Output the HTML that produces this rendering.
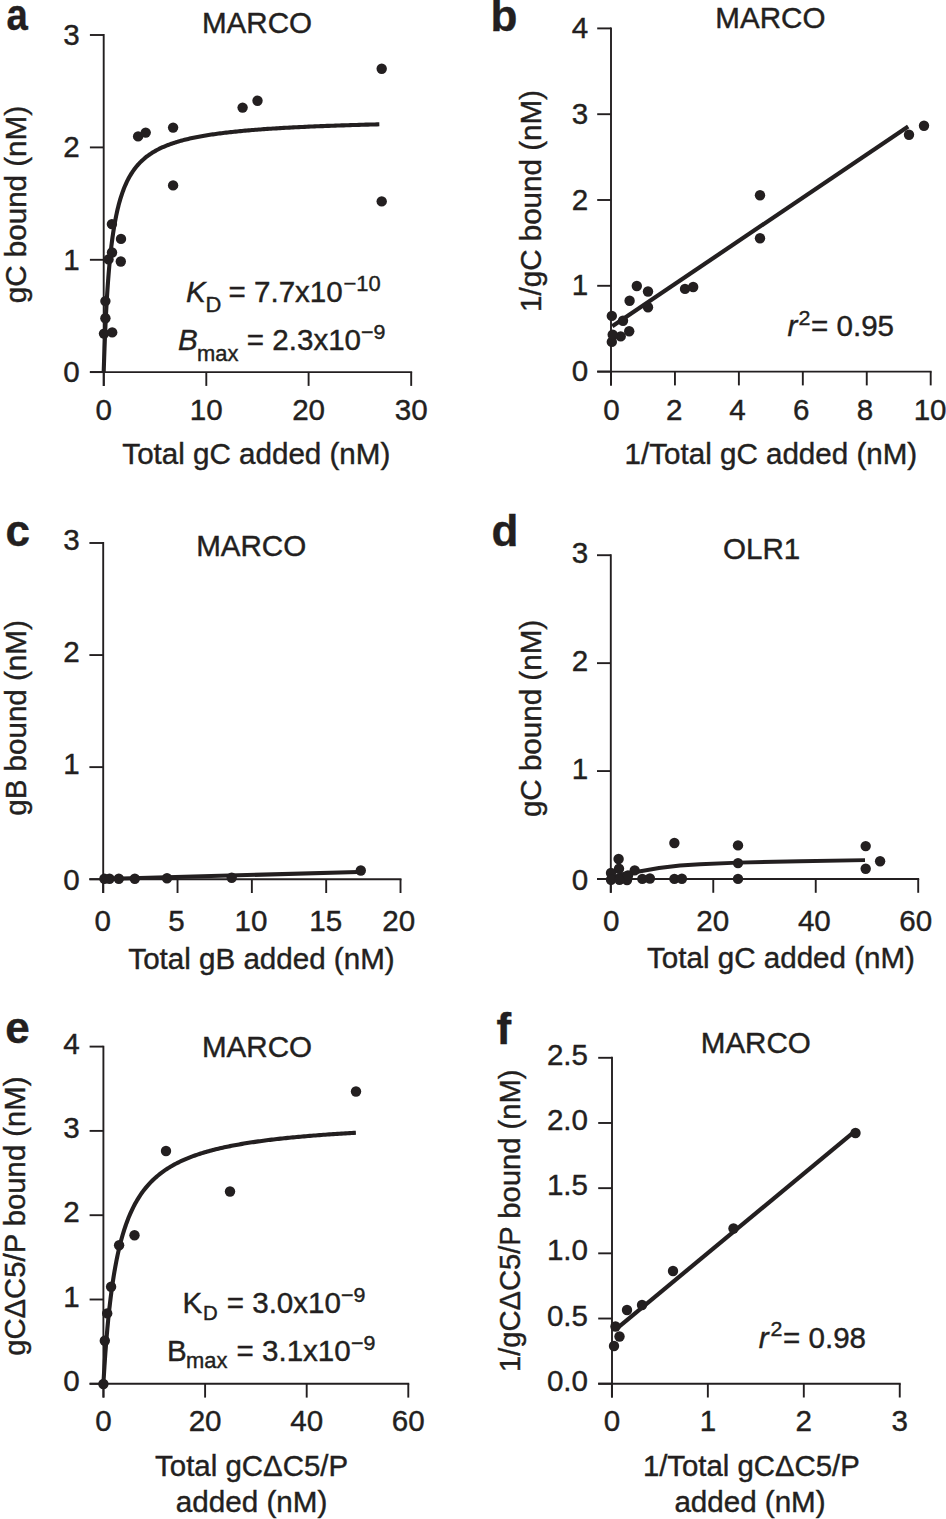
<!DOCTYPE html>
<html><head><meta charset="utf-8"><title>Figure</title><style>
html,body{margin:0;padding:0;background:#fff;}
svg{display:block;}
text{stroke:#231f20;stroke-width:0.4px;}
</style></head><body>
<svg width="946" height="1519" viewBox="0 0 946 1519" font-family="Liberation Sans, sans-serif" fill="#231f20">
<rect width="946" height="1519" fill="#fff"/>
<text transform="translate(6.6,30.3) scale(0.87,1)" font-size="44" font-weight="bold" stroke-width="0.3">a</text>
<text transform="translate(257.00,33.00) scale(1.02,1)" font-size="29" text-anchor="middle" >MARCO</text>
<g stroke="#231f20" stroke-linecap="butt">
<line x1="103.70" y1="34.05" x2="103.70" y2="385.90" stroke-width="1.9"/>
<line x1="89.90" y1="372.10" x2="412.15" y2="372.10" stroke-width="1.9"/>
<line x1="89.90" y1="372.10" x2="103.70" y2="372.10" stroke-width="1.9"/>
<line x1="89.90" y1="259.80" x2="103.70" y2="259.80" stroke-width="1.9"/>
<line x1="89.90" y1="147.40" x2="103.70" y2="147.40" stroke-width="1.9"/>
<line x1="89.90" y1="35.00" x2="103.70" y2="35.00" stroke-width="1.9"/>
<line x1="103.80" y1="372.10" x2="103.80" y2="385.90" stroke-width="1.9"/>
<line x1="206.30" y1="372.10" x2="206.30" y2="385.90" stroke-width="1.9"/>
<line x1="308.60" y1="372.10" x2="308.60" y2="385.90" stroke-width="1.9"/>
<line x1="411.20" y1="372.10" x2="411.20" y2="385.90" stroke-width="1.9"/>
</g>
<text transform="translate(79.60,382.10) scale(1.02,1)" font-size="29" text-anchor="end" >0</text>
<text transform="translate(79.60,269.80) scale(1.02,1)" font-size="29" text-anchor="end" >1</text>
<text transform="translate(79.60,157.40) scale(1.02,1)" font-size="29" text-anchor="end" >2</text>
<text transform="translate(79.60,45.00) scale(1.02,1)" font-size="29" text-anchor="end" >3</text>
<text transform="translate(103.80,419.90) scale(1.02,1)" font-size="29" text-anchor="middle" >0</text>
<text transform="translate(206.30,419.90) scale(1.02,1)" font-size="29" text-anchor="middle" >10</text>
<text transform="translate(308.60,419.90) scale(1.02,1)" font-size="29" text-anchor="middle" >20</text>
<text transform="translate(411.20,419.90) scale(1.02,1)" font-size="29" text-anchor="middle" >30</text>
<text transform="translate(26.00,204.60) rotate(-90) scale(1.02,1)" font-size="29" text-anchor="middle">gC bound (nM)</text>
<text transform="translate(256.30,464.00) scale(1.02,1)" font-size="29" text-anchor="middle" >Total gC added (nM)</text>
<path d="M103.70,372.10 L103.70,371.94 L103.72,371.48 L103.74,370.71 L103.78,369.64 L103.82,368.28 L103.87,366.63 L103.93,364.72 L104.01,362.54 L104.09,360.12 L104.18,357.47 L104.28,354.61 L104.39,351.56 L104.51,348.32 L104.64,344.93 L104.78,341.39 L104.93,337.73 L105.08,333.97 L105.25,330.11 L105.43,326.18 L105.61,322.19 L105.81,318.15 L106.02,314.09 L106.23,310.01 L106.46,305.93 L106.69,301.85 L106.93,297.79 L107.19,293.75 L107.45,289.75 L107.72,285.79 L108.01,281.88 L108.30,278.03 L108.60,274.23 L108.91,270.49 L109.23,266.82 L109.56,263.22 L109.90,259.70 L110.25,256.24 L110.61,252.87 L110.98,249.56 L111.36,246.34 L111.74,243.19 L112.14,240.13 L112.55,237.13 L112.96,234.22 L113.39,231.38 L113.83,228.62 L114.27,225.93 L114.73,223.31 L115.19,220.77 L115.66,218.29 L116.15,215.89 L116.64,213.55 L117.14,211.28 L117.65,209.07 L118.18,206.93 L118.71,204.85 L119.25,202.82 L119.80,200.86 L120.36,198.95 L120.93,197.09 L121.51,195.29 L122.09,193.54 L122.69,191.84 L123.30,190.19 L123.92,188.59 L124.54,187.03 L125.18,185.52 L125.83,184.05 L126.48,182.62 L127.15,181.23 L127.82,179.88 L128.51,178.57 L129.20,177.29 L129.90,176.05 L130.62,174.85 L131.34,173.67 L132.07,172.53 L132.81,171.42 L133.57,170.35 L134.33,169.30 L135.10,168.27 L135.88,167.28 L136.67,166.31 L137.47,165.37 L138.27,164.45 L139.09,163.56 L139.92,162.69 L140.76,161.84 L141.60,161.02 L142.46,160.21 L143.33,159.43 L144.20,158.67 L145.09,157.92 L145.98,157.20 L146.89,156.49 L147.80,155.80 L148.73,155.13 L149.66,154.47 L150.60,153.83 L151.55,153.20 L152.52,152.59 L153.49,152.00 L154.47,151.42 L155.46,150.85 L156.46,150.29 L157.47,149.75 L158.49,149.22 L159.52,148.71 L160.55,148.20 L161.60,147.71 L162.66,147.23 L163.73,146.76 L164.80,146.30 L165.89,145.85 L166.99,145.40 L168.09,144.97 L169.21,144.55 L170.33,144.14 L171.47,143.74 L172.61,143.34 L173.76,142.96 L174.92,142.58 L176.10,142.21 L177.28,141.85 L178.47,141.49 L179.67,141.14 L180.88,140.80 L182.10,140.47 L183.33,140.14 L184.57,139.82 L185.82,139.51 L187.08,139.20 L188.35,138.90 L189.63,138.61 L190.91,138.32 L192.21,138.04 L193.52,137.76 L194.83,137.49 L196.16,137.22 L197.49,136.96 L198.84,136.70 L200.19,136.45 L201.56,136.20 L202.93,135.96 L204.31,135.72 L205.70,135.48 L207.11,135.25 L208.52,135.03 L209.94,134.81 L211.37,134.59 L212.81,134.38 L214.26,134.17 L215.72,133.96 L217.19,133.76 L218.67,133.56 L220.16,133.36 L221.65,133.17 L223.16,132.98 L224.68,132.80 L226.20,132.62 L227.74,132.44 L229.29,132.26 L230.84,132.09 L232.41,131.92 L233.98,131.75 L235.56,131.59 L237.16,131.43 L238.76,131.27 L240.37,131.11 L242.00,130.96 L243.63,130.80 L245.27,130.66 L246.92,130.51 L248.58,130.37 L250.25,130.22 L251.93,130.08 L253.62,129.95 L255.32,129.81 L257.03,129.68 L258.74,129.55 L260.47,129.42 L262.21,129.29 L263.96,129.17 L265.71,129.04 L267.48,128.92 L269.25,128.80 L271.04,128.68 L272.83,128.57 L274.64,128.45 L276.45,128.34 L278.27,128.23 L280.11,128.12 L281.95,128.01 L283.80,127.91 L285.66,127.80 L287.53,127.70 L289.41,127.60 L291.30,127.50 L293.20,127.40 L295.11,127.30 L297.03,127.21 L298.96,127.11 L300.90,127.02 L302.85,126.93 L304.80,126.84 L306.77,126.75 L308.75,126.66 L310.73,126.57 L312.73,126.49 L314.73,126.40 L316.75,126.32 L318.77,126.24 L320.81,126.16 L322.85,126.08 L324.90,126.00 L326.96,125.92 L329.04,125.84 L331.12,125.77 L333.21,125.69 L335.31,125.62 L337.42,125.54 L339.54,125.47 L341.67,125.40 L343.81,125.33 L345.96,125.26 L348.12,125.19 L350.28,125.12 L352.46,125.06 L354.65,124.99 L356.84,124.93 L359.05,124.86 L361.27,124.80 L363.49,124.74 L365.73,124.67 L367.97,124.61 L370.22,124.55 L372.49,124.49 L374.76,124.43 L377.04,124.38 L379.34,124.32" fill="none" stroke="#231f20" stroke-width="4.1" stroke-linejoin="round"/>
<circle cx="104" cy="333.6" r="5.2"/>
<circle cx="112.2" cy="332.4" r="5.2"/>
<circle cx="105.4" cy="318.2" r="5.2"/>
<circle cx="105.4" cy="301.1" r="5.2"/>
<circle cx="108.5" cy="259.4" r="5.2"/>
<circle cx="112" cy="252.5" r="5.2"/>
<circle cx="120.8" cy="261.5" r="5.2"/>
<circle cx="121" cy="238.9" r="5.2"/>
<circle cx="111.9" cy="224.1" r="5.2"/>
<circle cx="138.1" cy="136.4" r="5.2"/>
<circle cx="145.7" cy="132.6" r="5.2"/>
<circle cx="173.1" cy="127.6" r="5.2"/>
<circle cx="173.1" cy="185.4" r="5.2"/>
<circle cx="242.6" cy="107.6" r="5.2"/>
<circle cx="257.5" cy="100.8" r="5.2"/>
<circle cx="381.7" cy="68.7" r="5.2"/>
<circle cx="381.7" cy="201.4" r="5.2"/>
<text transform="translate(186.00,301.50) scale(1.02,1)" font-size="29" text-anchor="start" font-style="italic">K</text>
<text transform="translate(205.50,312.00) scale(1.02,1)" font-size="21.5" text-anchor="start" >D</text>
<text transform="translate(228.50,301.50) scale(1.02,1)" font-size="29" text-anchor="start" >= 7.7x10</text>
<text transform="translate(343.50,290.50) scale(1.02,1)" font-size="21.5" text-anchor="start" >&#8722;10</text>
<text transform="translate(178.00,350.00) scale(1.02,1)" font-size="29" text-anchor="start" font-style="italic">B</text>
<text transform="translate(197.00,360.50) scale(1.02,1)" font-size="21.5" text-anchor="start" >max</text>
<text transform="translate(246.80,350.00) scale(1.02,1)" font-size="29" text-anchor="start" >= 2.3x10</text>
<text transform="translate(361.00,339.00) scale(1.02,1)" font-size="21" text-anchor="start" >&#8722;9</text>
<text transform="translate(490.4,30.5) scale(1.0,1)" font-size="44" font-weight="bold" stroke-width="0.3">b</text>
<text transform="translate(770.40,28.40) scale(1.02,1)" font-size="29" text-anchor="middle" >MARCO</text>
<g stroke="#231f20" stroke-linecap="butt">
<line x1="611.00" y1="27.45" x2="611.00" y2="385.40" stroke-width="1.9"/>
<line x1="597.20" y1="371.60" x2="931.65" y2="371.60" stroke-width="1.9"/>
<line x1="597.20" y1="371.60" x2="611.00" y2="371.60" stroke-width="1.9"/>
<line x1="597.20" y1="285.80" x2="611.00" y2="285.80" stroke-width="1.9"/>
<line x1="597.20" y1="200.00" x2="611.00" y2="200.00" stroke-width="1.9"/>
<line x1="597.20" y1="114.20" x2="611.00" y2="114.20" stroke-width="1.9"/>
<line x1="597.20" y1="28.40" x2="611.00" y2="28.40" stroke-width="1.9"/>
<line x1="611.00" y1="371.60" x2="611.00" y2="385.40" stroke-width="1.9"/>
<line x1="674.94" y1="371.60" x2="674.94" y2="385.40" stroke-width="1.9"/>
<line x1="738.88" y1="371.60" x2="738.88" y2="385.40" stroke-width="1.9"/>
<line x1="802.82" y1="371.60" x2="802.82" y2="385.40" stroke-width="1.9"/>
<line x1="866.76" y1="371.60" x2="866.76" y2="385.40" stroke-width="1.9"/>
<line x1="930.70" y1="371.60" x2="930.70" y2="385.40" stroke-width="1.9"/>
</g>
<text transform="translate(588.20,381.10) scale(1.02,1)" font-size="29" text-anchor="end" >0</text>
<text transform="translate(588.20,295.30) scale(1.02,1)" font-size="29" text-anchor="end" >1</text>
<text transform="translate(588.20,209.50) scale(1.02,1)" font-size="29" text-anchor="end" >2</text>
<text transform="translate(588.20,123.70) scale(1.02,1)" font-size="29" text-anchor="end" >3</text>
<text transform="translate(588.20,37.90) scale(1.02,1)" font-size="29" text-anchor="end" >4</text>
<text transform="translate(611.40,419.90) scale(1.02,1)" font-size="29" text-anchor="middle" >0</text>
<text transform="translate(674.24,419.90) scale(1.02,1)" font-size="29" text-anchor="middle" >2</text>
<text transform="translate(737.48,419.90) scale(1.02,1)" font-size="29" text-anchor="middle" >4</text>
<text transform="translate(801.12,419.90) scale(1.02,1)" font-size="29" text-anchor="middle" >6</text>
<text transform="translate(865.06,419.90) scale(1.02,1)" font-size="29" text-anchor="middle" >8</text>
<text transform="translate(930.10,419.90) scale(1.02,1)" font-size="29" text-anchor="middle" >10</text>
<text transform="translate(541.00,201.00) rotate(-90) scale(1.02,1)" font-size="29" text-anchor="middle">1/gC bound (nM)</text>
<text transform="translate(770.90,464.10) scale(1.02,1)" font-size="29" text-anchor="middle" >1/Total gC added (nM)</text>
<path d="M612.30,326.30 L908.20,126.40" fill="none" stroke="#231f20" stroke-width="4.2" stroke-linejoin="round"/>
<circle cx="636.8" cy="286" r="5.2"/>
<circle cx="648" cy="291.5" r="5.2"/>
<circle cx="629.6" cy="300.8" r="5.2"/>
<circle cx="611.8" cy="315.9" r="5.2"/>
<circle cx="648" cy="307.2" r="5.2"/>
<circle cx="623" cy="320.7" r="5.2"/>
<circle cx="629.2" cy="331.3" r="5.2"/>
<circle cx="620.7" cy="336.4" r="5.2"/>
<circle cx="611.8" cy="341.9" r="5.2"/>
<circle cx="612.7" cy="334.7" r="5.2"/>
<circle cx="685" cy="288.9" r="5.2"/>
<circle cx="693.2" cy="287" r="5.2"/>
<circle cx="760" cy="195.3" r="5.2"/>
<circle cx="760" cy="238.2" r="5.2"/>
<circle cx="909" cy="134.7" r="5.2"/>
<circle cx="924" cy="125.8" r="5.2"/>
<text transform="translate(787.50,336.00) scale(1.02,1)" font-size="29" text-anchor="start" font-style="italic">r</text>
<text transform="translate(798.50,324.50) scale(1.02,1)" font-size="21" text-anchor="start" >2</text>
<text transform="translate(811.00,336.00) scale(1.02,1)" font-size="29" text-anchor="start" >= 0.95</text>
<text transform="translate(5.5,545.8) scale(1.0,1)" font-size="44" font-weight="bold" stroke-width="0.3">c</text>
<text transform="translate(251.20,556.30) scale(1.02,1)" font-size="29" text-anchor="middle" >MARCO</text>
<g stroke="#231f20" stroke-linecap="butt">
<line x1="103.20" y1="542.04" x2="103.20" y2="893.00" stroke-width="1.9"/>
<line x1="89.40" y1="879.20" x2="401.47" y2="879.20" stroke-width="1.9"/>
<line x1="89.40" y1="879.20" x2="103.20" y2="879.20" stroke-width="1.9"/>
<line x1="89.40" y1="767.13" x2="103.20" y2="767.13" stroke-width="1.9"/>
<line x1="89.40" y1="655.06" x2="103.20" y2="655.06" stroke-width="1.9"/>
<line x1="89.40" y1="542.99" x2="103.20" y2="542.99" stroke-width="1.9"/>
<line x1="103.20" y1="879.20" x2="103.20" y2="893.00" stroke-width="1.9"/>
<line x1="177.53" y1="879.20" x2="177.53" y2="893.00" stroke-width="1.9"/>
<line x1="251.86" y1="879.20" x2="251.86" y2="893.00" stroke-width="1.9"/>
<line x1="326.19" y1="879.20" x2="326.19" y2="893.00" stroke-width="1.9"/>
<line x1="400.52" y1="879.20" x2="400.52" y2="893.00" stroke-width="1.9"/>
</g>
<text transform="translate(79.60,889.60) scale(1.02,1)" font-size="29" text-anchor="end" >0</text>
<text transform="translate(79.60,774.43) scale(1.02,1)" font-size="29" text-anchor="end" >1</text>
<text transform="translate(79.60,662.46) scale(1.02,1)" font-size="29" text-anchor="end" >2</text>
<text transform="translate(79.60,549.99) scale(1.02,1)" font-size="29" text-anchor="end" >3</text>
<text transform="translate(102.60,930.60) scale(1.02,1)" font-size="29" text-anchor="middle" >0</text>
<text transform="translate(176.53,930.60) scale(1.02,1)" font-size="29" text-anchor="middle" >5</text>
<text transform="translate(251.06,930.60) scale(1.02,1)" font-size="29" text-anchor="middle" >10</text>
<text transform="translate(325.69,930.60) scale(1.02,1)" font-size="29" text-anchor="middle" >15</text>
<text transform="translate(398.72,930.60) scale(1.02,1)" font-size="29" text-anchor="middle" >20</text>
<text transform="translate(26.00,718.00) rotate(-90) scale(1.02,1)" font-size="29" text-anchor="middle">gB bound (nM)</text>
<text transform="translate(261.50,968.50) scale(1.02,1)" font-size="29" text-anchor="middle" >Total gB added (nM)</text>
<path d="M103.50,879.00 L358.00,872.00" fill="none" stroke="#231f20" stroke-width="4.1" stroke-linejoin="round"/>
<circle cx="104.4" cy="878.7" r="5.2"/>
<circle cx="109.5" cy="878.7" r="5.2"/>
<circle cx="118.8" cy="878.7" r="5.2"/>
<circle cx="134.8" cy="878.7" r="5.2"/>
<circle cx="167" cy="878.3" r="5.2"/>
<circle cx="231.7" cy="877.8" r="5.2"/>
<circle cx="360.8" cy="870.5" r="5.2"/>
<text transform="translate(491.5,545.8) scale(1.0,1)" font-size="44" font-weight="bold" stroke-width="0.3">d</text>
<text transform="translate(761.60,559.20) scale(1.02,1)" font-size="29" text-anchor="middle" >OLR1</text>
<g stroke="#231f20" stroke-linecap="butt">
<line x1="610.80" y1="554.26" x2="610.80" y2="892.80" stroke-width="1.9"/>
<line x1="597.00" y1="879.00" x2="919.16" y2="879.00" stroke-width="1.9"/>
<line x1="597.00" y1="879.00" x2="610.80" y2="879.00" stroke-width="1.9"/>
<line x1="597.00" y1="771.07" x2="610.80" y2="771.07" stroke-width="1.9"/>
<line x1="597.00" y1="663.14" x2="610.80" y2="663.14" stroke-width="1.9"/>
<line x1="597.00" y1="555.21" x2="610.80" y2="555.21" stroke-width="1.9"/>
<line x1="610.80" y1="879.00" x2="610.80" y2="892.80" stroke-width="1.9"/>
<line x1="713.27" y1="879.00" x2="713.27" y2="892.80" stroke-width="1.9"/>
<line x1="815.74" y1="879.00" x2="815.74" y2="892.80" stroke-width="1.9"/>
<line x1="918.21" y1="879.00" x2="918.21" y2="892.80" stroke-width="1.9"/>
</g>
<text transform="translate(588.20,889.60) scale(1.02,1)" font-size="29" text-anchor="end" >0</text>
<text transform="translate(588.20,778.87) scale(1.02,1)" font-size="29" text-anchor="end" >1</text>
<text transform="translate(588.20,670.84) scale(1.02,1)" font-size="29" text-anchor="end" >2</text>
<text transform="translate(588.20,562.51) scale(1.02,1)" font-size="29" text-anchor="end" >3</text>
<text transform="translate(611.20,930.60) scale(1.02,1)" font-size="29" text-anchor="middle" >0</text>
<text transform="translate(712.77,930.60) scale(1.02,1)" font-size="29" text-anchor="middle" >20</text>
<text transform="translate(814.34,930.60) scale(1.02,1)" font-size="29" text-anchor="middle" >40</text>
<text transform="translate(915.81,930.60) scale(1.02,1)" font-size="29" text-anchor="middle" >60</text>
<text transform="translate(541.00,718.50) rotate(-90) scale(1.02,1)" font-size="29" text-anchor="middle">gC bound (nM)</text>
<text transform="translate(781.00,968.30) scale(1.02,1)" font-size="29" text-anchor="middle" >Total gC added (nM)</text>
<path d="M611.00,879.00 L614.00,877.00 L618.00,875.50 L625.00,873.70 L639.00,871.50 L659.00,868.00 L680.00,865.50 L700.00,864.20 L738.00,862.60 L800.00,861.20 L865.00,860.10" fill="none" stroke="#231f20" stroke-width="3.9" stroke-linejoin="round"/>
<circle cx="674.4" cy="843" r="5.2"/>
<circle cx="618.6" cy="859" r="5.2"/>
<circle cx="619" cy="868.8" r="5.2"/>
<circle cx="611" cy="873" r="5.2"/>
<circle cx="634.7" cy="870.4" r="5.2"/>
<circle cx="642.3" cy="878.9" r="5.2"/>
<circle cx="649.9" cy="878.5" r="5.2"/>
<circle cx="674.4" cy="878.9" r="5.2"/>
<circle cx="611" cy="879.7" r="5.2"/>
<circle cx="627" cy="880" r="5.2"/>
<circle cx="619.5" cy="879.7" r="5.2"/>
<circle cx="681.9" cy="878.8" r="5.2"/>
<circle cx="628" cy="875.5" r="5.2"/>
<circle cx="738" cy="845.4" r="5.2"/>
<circle cx="738" cy="863.1" r="5.2"/>
<circle cx="738" cy="878.9" r="5.2"/>
<circle cx="865.7" cy="846.1" r="5.2"/>
<circle cx="865.7" cy="868.7" r="5.2"/>
<circle cx="880.1" cy="861.3" r="5.2"/>
<text transform="translate(5.2,1043) scale(1.0,1)" font-size="44" font-weight="bold" stroke-width="0.3">e</text>
<text transform="translate(257.00,1057.10) scale(1.02,1)" font-size="29" text-anchor="middle" >MARCO</text>
<g stroke="#231f20" stroke-linecap="butt">
<line x1="103.40" y1="1045.65" x2="103.40" y2="1397.60" stroke-width="1.9"/>
<line x1="89.60" y1="1383.80" x2="409.25" y2="1383.80" stroke-width="1.9"/>
<line x1="89.60" y1="1383.80" x2="103.40" y2="1383.80" stroke-width="1.9"/>
<line x1="89.60" y1="1299.50" x2="103.40" y2="1299.50" stroke-width="1.9"/>
<line x1="89.60" y1="1215.20" x2="103.40" y2="1215.20" stroke-width="1.9"/>
<line x1="89.60" y1="1130.90" x2="103.40" y2="1130.90" stroke-width="1.9"/>
<line x1="89.60" y1="1046.60" x2="103.40" y2="1046.60" stroke-width="1.9"/>
<line x1="103.50" y1="1383.80" x2="103.50" y2="1397.60" stroke-width="1.9"/>
<line x1="205.10" y1="1383.80" x2="205.10" y2="1397.60" stroke-width="1.9"/>
<line x1="306.70" y1="1383.80" x2="306.70" y2="1397.60" stroke-width="1.9"/>
<line x1="408.30" y1="1383.80" x2="408.30" y2="1397.60" stroke-width="1.9"/>
</g>
<text transform="translate(79.60,1390.80) scale(1.02,1)" font-size="29" text-anchor="end" >0</text>
<text transform="translate(79.60,1306.50) scale(1.02,1)" font-size="29" text-anchor="end" >1</text>
<text transform="translate(79.60,1222.20) scale(1.02,1)" font-size="29" text-anchor="end" >2</text>
<text transform="translate(79.60,1137.90) scale(1.02,1)" font-size="29" text-anchor="end" >3</text>
<text transform="translate(79.60,1053.60) scale(1.02,1)" font-size="29" text-anchor="end" >4</text>
<text transform="translate(103.50,1431.20) scale(1.02,1)" font-size="29" text-anchor="middle" >0</text>
<text transform="translate(205.10,1431.20) scale(1.02,1)" font-size="29" text-anchor="middle" >20</text>
<text transform="translate(306.70,1431.20) scale(1.02,1)" font-size="29" text-anchor="middle" >40</text>
<text transform="translate(408.30,1431.20) scale(1.02,1)" font-size="29" text-anchor="middle" >60</text>
<text transform="translate(25.30,1216.20) rotate(-90) scale(1.01,1)" font-size="29" text-anchor="middle">gC&#916;C5/P bound (nM)</text>
<text transform="translate(251.60,1476.30) scale(1.015,1)" font-size="29" text-anchor="middle" >Total gC&#916;C5/P</text>
<text transform="translate(251.60,1511.80) scale(1.022,1)" font-size="29" text-anchor="middle" >added (nM)</text>
<path d="M103.40,1383.80 L103.40,1383.72 L103.42,1383.49 L103.44,1383.11 L103.47,1382.57 L103.51,1381.89 L103.56,1381.06 L103.61,1380.08 L103.68,1378.97 L103.76,1377.71 L103.84,1376.32 L103.93,1374.81 L104.03,1373.16 L104.14,1371.40 L104.26,1369.53 L104.39,1367.55 L104.52,1365.46 L104.67,1363.28 L104.82,1361.01 L104.98,1358.65 L105.15,1356.22 L105.33,1353.71 L105.52,1351.14 L105.72,1348.50 L105.92,1345.81 L106.14,1343.08 L106.36,1340.30 L106.60,1337.48 L106.84,1334.63 L107.09,1331.75 L107.34,1328.86 L107.61,1325.94 L107.89,1323.02 L108.17,1320.08 L108.47,1317.14 L108.77,1314.21 L109.08,1311.27 L109.40,1308.34 L109.73,1305.43 L110.07,1302.52 L110.41,1299.64 L110.77,1296.77 L111.13,1293.92 L111.50,1291.10 L111.89,1288.31 L112.28,1285.54 L112.67,1282.80 L113.08,1280.09 L113.50,1277.41 L113.92,1274.77 L114.36,1272.16 L114.80,1269.58 L115.25,1267.04 L115.71,1264.54 L116.18,1262.08 L116.66,1259.65 L117.15,1257.26 L117.64,1254.91 L118.15,1252.59 L118.66,1250.32 L119.18,1248.08 L119.71,1245.89 L120.25,1243.73 L120.80,1241.61 L121.35,1239.52 L121.92,1237.48 L122.49,1235.47 L123.08,1233.50 L123.67,1231.56 L124.27,1229.66 L124.88,1227.80 L125.50,1225.98 L126.12,1224.18 L126.76,1222.43 L127.40,1220.70 L128.06,1219.01 L128.72,1217.36 L129.39,1215.73 L130.07,1214.14 L130.76,1212.58 L131.45,1211.05 L132.16,1209.55 L132.87,1208.07 L133.60,1206.63 L134.33,1205.22 L135.07,1203.84 L135.82,1202.48 L136.58,1201.15 L137.34,1199.84 L138.12,1198.57 L138.90,1197.31 L139.70,1196.08 L140.50,1194.88 L141.31,1193.70 L142.13,1192.55 L142.96,1191.41 L143.80,1190.30 L144.64,1189.21 L145.50,1188.14 L146.36,1187.10 L147.23,1186.07 L148.11,1185.06 L149.00,1184.08 L149.90,1183.11 L150.81,1182.16 L151.73,1181.23 L152.65,1180.32 L153.58,1179.42 L154.53,1178.54 L155.48,1177.68 L156.44,1176.84 L157.41,1176.01 L158.38,1175.20 L159.37,1174.40 L160.36,1173.62 L161.37,1172.85 L162.38,1172.09 L163.40,1171.35 L164.43,1170.63 L165.47,1169.92 L166.52,1169.22 L167.58,1168.53 L168.64,1167.86 L169.71,1167.19 L170.80,1166.55 L171.89,1165.91 L172.99,1165.28 L174.10,1164.67 L175.22,1164.06 L176.34,1163.47 L177.48,1162.89 L178.62,1162.31 L179.77,1161.75 L180.94,1161.20 L182.11,1160.66 L183.28,1160.12 L184.47,1159.60 L185.67,1159.08 L186.87,1158.58 L188.09,1158.08 L189.31,1157.59 L190.54,1157.11 L191.78,1156.64 L193.03,1156.17 L194.29,1155.72 L195.56,1155.27 L196.83,1154.83 L198.12,1154.39 L199.41,1153.96 L200.71,1153.54 L202.02,1153.13 L203.34,1152.72 L204.67,1152.32 L206.01,1151.93 L207.35,1151.54 L208.71,1151.16 L210.07,1150.79 L211.44,1150.42 L212.82,1150.06 L214.21,1149.70 L215.61,1149.35 L217.02,1149.00 L218.43,1148.66 L219.86,1148.33 L221.29,1148.00 L222.73,1147.67 L224.19,1147.35 L225.64,1147.03 L227.11,1146.72 L228.59,1146.42 L230.08,1146.12 L231.57,1145.82 L233.07,1145.53 L234.59,1145.24 L236.11,1144.96 L237.64,1144.68 L239.18,1144.40 L240.72,1144.13 L242.28,1143.86 L243.84,1143.60 L245.42,1143.34 L247.00,1143.08 L248.59,1142.83 L250.19,1142.58 L251.80,1142.34 L253.42,1142.10 L255.04,1141.86 L256.68,1141.62 L258.32,1141.39 L259.97,1141.16 L261.64,1140.94 L263.31,1140.72 L264.98,1140.50 L266.67,1140.28 L268.37,1140.07 L270.07,1139.86 L271.79,1139.65 L273.51,1139.45 L275.24,1139.25 L276.98,1139.05 L278.73,1138.85 L280.49,1138.66 L282.25,1138.47 L284.03,1138.28 L285.81,1138.09 L287.61,1137.91 L289.41,1137.73 L291.22,1137.55 L293.04,1137.37 L294.87,1137.20 L296.70,1137.02 L298.55,1136.85 L300.40,1136.69 L302.26,1136.52 L304.14,1136.36 L306.02,1136.20 L307.91,1136.04 L309.80,1135.88 L311.71,1135.72 L313.63,1135.57 L315.55,1135.42 L317.48,1135.27 L319.42,1135.12 L321.38,1134.97 L323.33,1134.83 L325.30,1134.69 L327.28,1134.55 L329.27,1134.41 L331.26,1134.27 L333.26,1134.14 L335.27,1134.00 L337.30,1133.87 L339.32,1133.74 L341.36,1133.61 L343.41,1133.48 L345.47,1133.35 L347.53,1133.23 L349.60,1133.11 L351.69,1132.98 L353.78,1132.86 L355.88,1132.74" fill="none" stroke="#231f20" stroke-width="4.1" stroke-linejoin="round"/>
<circle cx="103.4" cy="1384" r="5.2"/>
<circle cx="104.8" cy="1340.7" r="5.2"/>
<circle cx="107.2" cy="1313.4" r="5.2"/>
<circle cx="111.1" cy="1286.8" r="5.2"/>
<circle cx="119.1" cy="1245.3" r="5.2"/>
<circle cx="134.5" cy="1235.2" r="5.2"/>
<circle cx="166" cy="1151" r="5.2"/>
<circle cx="230" cy="1191.5" r="5.2"/>
<circle cx="356" cy="1091.5" r="5.2"/>
<text transform="translate(182.60,1313.00) scale(1.02,1)" font-size="29" text-anchor="start" >K</text>
<text transform="translate(203.00,1320.00) scale(1.02,1)" font-size="20" text-anchor="start" >D</text>
<text transform="translate(226.70,1313.00) scale(1.02,1)" font-size="29" text-anchor="start" >= 3.0x10</text>
<text transform="translate(341.00,1302.00) scale(1.02,1)" font-size="21" text-anchor="start" >&#8722;9</text>
<text transform="translate(167.00,1360.70) scale(1.02,1)" font-size="29" text-anchor="start" >B</text>
<text transform="translate(186.00,1368.00) scale(1.02,1)" font-size="21.5" text-anchor="start" >max</text>
<text transform="translate(236.50,1360.70) scale(1.02,1)" font-size="29" text-anchor="start" >= 3.1x10</text>
<text transform="translate(351.00,1350.00) scale(1.02,1)" font-size="21" text-anchor="start" >&#8722;9</text>
<text transform="translate(496.6,1044.4) scale(1.0,1)" font-size="44" font-weight="bold" stroke-width="0.3">f</text>
<text transform="translate(755.80,1052.80) scale(1.02,1)" font-size="29" text-anchor="middle" >MARCO</text>
<g stroke="#231f20" stroke-linecap="butt">
<line x1="612.00" y1="1056.85" x2="612.00" y2="1397.50" stroke-width="1.9"/>
<line x1="598.20" y1="1383.70" x2="900.70" y2="1383.70" stroke-width="1.9"/>
<line x1="598.20" y1="1383.70" x2="612.00" y2="1383.70" stroke-width="1.9"/>
<line x1="598.20" y1="1318.52" x2="612.00" y2="1318.52" stroke-width="1.9"/>
<line x1="598.20" y1="1253.34" x2="612.00" y2="1253.34" stroke-width="1.9"/>
<line x1="598.20" y1="1188.16" x2="612.00" y2="1188.16" stroke-width="1.9"/>
<line x1="598.20" y1="1122.98" x2="612.00" y2="1122.98" stroke-width="1.9"/>
<line x1="598.20" y1="1057.80" x2="612.00" y2="1057.80" stroke-width="1.9"/>
<line x1="611.90" y1="1383.70" x2="611.90" y2="1397.50" stroke-width="1.9"/>
<line x1="707.85" y1="1383.70" x2="707.85" y2="1397.50" stroke-width="1.9"/>
<line x1="803.80" y1="1383.70" x2="803.80" y2="1397.50" stroke-width="1.9"/>
<line x1="899.75" y1="1383.70" x2="899.75" y2="1397.50" stroke-width="1.9"/>
</g>
<text transform="translate(588.00,1390.70) scale(1.02,1)" font-size="29" text-anchor="end" >0.0</text>
<text transform="translate(588.00,1325.52) scale(1.02,1)" font-size="29" text-anchor="end" >0.5</text>
<text transform="translate(588.00,1260.34) scale(1.02,1)" font-size="29" text-anchor="end" >1.0</text>
<text transform="translate(588.00,1195.16) scale(1.02,1)" font-size="29" text-anchor="end" >1.5</text>
<text transform="translate(588.00,1129.98) scale(1.02,1)" font-size="29" text-anchor="end" >2.0</text>
<text transform="translate(588.00,1064.80) scale(1.02,1)" font-size="29" text-anchor="end" >2.5</text>
<text transform="translate(611.90,1431.20) scale(1.02,1)" font-size="29" text-anchor="middle" >0</text>
<text transform="translate(707.85,1431.20) scale(1.02,1)" font-size="29" text-anchor="middle" >1</text>
<text transform="translate(803.80,1431.20) scale(1.02,1)" font-size="29" text-anchor="middle" >2</text>
<text transform="translate(899.75,1431.20) scale(1.02,1)" font-size="29" text-anchor="middle" >3</text>
<text transform="translate(520.00,1220.80) rotate(-90) scale(1.005,1)" font-size="29" text-anchor="middle">1/gC&#916;C5/P bound (nM)</text>
<text transform="translate(751.30,1476.00) scale(1.012,1)" font-size="29" text-anchor="middle" >1/Total gC&#916;C5/P</text>
<text transform="translate(750.00,1511.80) scale(1.02,1)" font-size="29" text-anchor="middle" >added (nM)</text>
<path d="M617.00,1328.30 L852.00,1133.60" fill="none" stroke="#231f20" stroke-width="4.2" stroke-linejoin="round"/>
<circle cx="614" cy="1346" r="5.2"/>
<circle cx="615.5" cy="1326.5" r="5.2"/>
<circle cx="619.5" cy="1336.5" r="5.2"/>
<circle cx="627" cy="1310" r="5.2"/>
<circle cx="642" cy="1305" r="5.2"/>
<circle cx="673" cy="1271" r="5.2"/>
<circle cx="733.5" cy="1228.5" r="5.2"/>
<circle cx="855.5" cy="1133" r="5.2"/>
<text transform="translate(758.70,1347.60) scale(1.02,1)" font-size="29" text-anchor="start" font-style="italic">r</text>
<text transform="translate(770.60,1336.20) scale(1.02,1)" font-size="21" text-anchor="start" >2</text>
<text transform="translate(783.00,1347.60) scale(1.02,1)" font-size="29" text-anchor="start" >= 0.98</text>
</svg></body></html>
